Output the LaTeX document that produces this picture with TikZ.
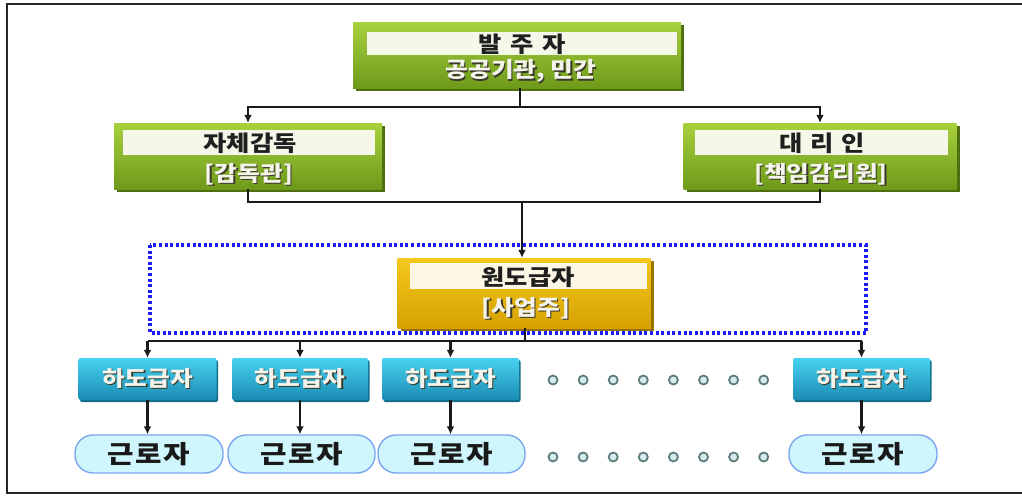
\documentclass[tikz,border=0pt]{standalone}
\usepackage{fontspec}
\newfontfamily\kr{Noto Sans CJK KR}[FakeStretch=1.15]
\usetikzlibrary{arrows.meta,shadows}
\definecolor{gtop}{HTML}{A8D13E}
\definecolor{gbot}{HTML}{6E9A1A}
\definecolor{gshd}{HTML}{4E6E10}
\definecolor{ytop}{HTML}{F4C81C}
\definecolor{ybot}{HTML}{D6A200}
\definecolor{yshd}{HTML}{9A7400}
\definecolor{ttop}{HTML}{48D2F0}
\definecolor{tbot}{HTML}{1B8CB4}
\definecolor{tshd}{HTML}{126C8A}
\definecolor{wfill}{HTML}{CFF6FC}
\definecolor{wline}{HTML}{7AA6F0}
\definecolor{band}{HTML}{F5F7E9}
\definecolor{bandy}{HTML}{FBF7E4}
\definecolor{dotblue}{HTML}{1A1AFF}
\definecolor{ln}{HTML}{1A1A1A}
\definecolor{lite}{HTML}{F4F4EC}
\definecolor{shd}{HTML}{3A3A2A}
\definecolor{dotline}{HTML}{5E7C7C}
\definecolor{dotfill}{HTML}{D6ECEC}
\newcommand\shtxt[1]{\rlap{\kern1.3pt\raisebox{-1.3pt}{\textcolor{shd}{#1}}}\textcolor{lite}{#1}}
\tikzset{
  gbox/.style={rectangle, inner sep=0pt, top color=gtop, bottom color=gbot, draw=none,
    drop shadow={shadow xshift=3pt, shadow yshift=-3pt, fill=gshd, opacity=1}},
  ybox/.style={rectangle, inner sep=0pt, top color=ytop, bottom color=ybot, draw=none,
    drop shadow={shadow xshift=3pt, shadow yshift=-3pt, fill=yshd, opacity=1}},
  tbox/.style={rectangle, inner sep=0pt, top color=ttop, bottom color=tbot, draw=none, rounded corners=2pt,
    minimum height=42pt,
    drop shadow={shadow xshift=1.5pt, shadow yshift=-2pt, fill=tshd, opacity=1}},
  wbox/.style={rectangle, inner sep=0pt, fill=wfill, draw=wline, line width=1.4pt, rounded corners=18pt,
    minimum height=38pt},
  bandbox/.style={rectangle, inner sep=0pt, fill=band, draw=none},
  ttl/.style={inner sep=0pt, font=\kr\bfseries\fontsize{22}{26}\selectfont, text=black!88},
  subt/.style={inner sep=0pt, font=\kr\bfseries\fontsize{21.5}{26}\selectfont},
  wtxt/.style={inner sep=0pt, font=\kr\bfseries\fontsize{25}{28}\selectfont, text=black!90},
  conn/.style={draw=ln, line width=2.6pt},
  arr/.style={conn, -{Latex[length=8pt,width=8pt]}},
  dot/.style={circle, inner sep=0pt, minimum size=9pt, draw=dotline, fill=dotfill, line width=1.8pt},
  grp/.style={draw=dotblue, line width=3.4pt, dash pattern=on 3pt off 2.6pt}
}
\begin{document}
\begin{tikzpicture}[x=1pt,y=-1pt]
\useasboundingbox (0,0) rectangle (1022,496);
% frame
\draw[line width=1.8pt, black!85] (1023,4) -- (7,4) -- (7,493) -- (1023,493);

% group rectangle
\draw[grp] (150,245) rectangle (866,333);

% client
\node[gbox, minimum width=328pt, minimum height=66pt] (client) at (517,55) {};
\node[bandbox, minimum width=310pt, minimum height=23pt] (clientband) at (522,43.5) {};
\node[ttl] (clientt) at (522,44) {\addfontfeature{LetterSpace=14}발 주 자};
\node[subt] (clients) at (521,72) {\shtxt{공공기관, 민간}};

% self supervision
\node[gbox, minimum width=268pt, minimum height=66pt] (self) at (248,156) {};
\node[bandbox, minimum width=252pt, minimum height=25pt] (selfband) at (249,142.5) {};
\node[ttl] (selft) at (250,143) {자체감독};
\node[subt] (selfs) at (249,175) {\shtxt{[감독관]}};

% agent
\node[gbox, minimum width=273pt, minimum height=66pt] (agent) at (820,156) {};
\node[bandbox, minimum width=253pt, minimum height=25pt] (agentband) at (821,142.5) {};
\node[ttl] (agentt) at (822,143) {\addfontfeature{LetterSpace=8}대 리 인};
\node[subt] (agents) at (821,175) {\shtxt{[책임감리원]}};

% main contractor
\node[ybox, minimum width=253pt, minimum height=70pt] (main) at (524,293) {};
\node[bandbox, fill=bandy, minimum width=237pt, minimum height=26pt] (mainband) at (528,276) {};
\node[ttl] (maint) at (528,277) {원도급자};
\node[subt] (mains) at (526,309) {\shtxt{[사업주]}};

% subcontractors
\node[tbox, minimum width=138pt] (s1) at (147.5,379) {};
\node[tbox, minimum width=136pt] (s2) at (300,379) {};
\node[tbox, minimum width=137pt] (s3) at (450.5,379) {};
\node[tbox, minimum width=137pt] (s4) at (861.5,379) {};
\foreach \n in {s1,s2,s3,s4}{
  \node[subt] (\n t) at (\n) {\shtxt{하도급자}};
}

% workers
\node[wbox, minimum width=148pt] (w1) at (149,454) {};
\node[wbox, minimum width=147pt] (w2) at (301.5,454) {};
\node[wbox, minimum width=147pt] (w3) at (451.5,454) {};
\node[wbox, minimum width=148pt] (w4) at (863,454) {};
\foreach \n in {w1,w2,w3,w4}{
  \node[wtxt] (\n t) at (\n) {\addfontfeature{LetterSpace=6}근로자};
}

% dots
\foreach \i in {0,...,7}{
  \node[dot] (da\i) at ({553+30.1*\i},380) {};
  \node[dot] (db\i) at ({553+30.1*\i},457) {};
}

% connectors
\coordinate (j1) at (520,107);
\draw[conn] (client.south -| j1) -- (j1);
\draw[arr] (j1) -| (self.north);
\draw[arr] (j1) -| (agent.north);

\coordinate (j2) at (522,202);
\draw[conn] (self.south) |- (j2) -| (agent.south);
\draw[arr] (j2) -- (j2 |- main.north);

\coordinate (j3) at (525,341);
\draw[conn] (main.south -| j3) -- (j3);
\draw[conn] (j3 -| s1.north) -- (j3 -| s4.north);
\foreach \n in {s1,s2,s3,s4}{
  \draw[arr] (j3 -| \n.north) -- (\n.north);
}
\foreach \a/\b in {s1/w1,s2/w2,s3/w3,s4/w4}{
  \draw[arr] (\a.south) -- (\a.south |- \b.north);
}
\end{tikzpicture}
\end{document}
